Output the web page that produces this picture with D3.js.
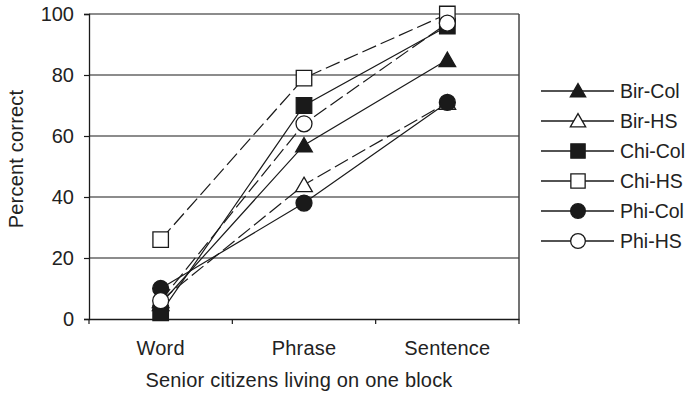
<!DOCTYPE html>
<html>
<head>
<meta charset="utf-8">
<script src="https://cdn.jsdelivr.net/npm/d3@7"></script>
<style>
  html, body { margin: 0; padding: 0; background: #fff; }
  svg { display: block; font-family: "Liberation Sans", Arial, Helvetica, sans-serif; }
  text { fill: #222; }
</style>
</head>
<body>
<svg id="chart" width="689" height="397"></svg>
<script>
// Task categories along the x axis
const categories = ["Word", "Phrase", "Sentence"];

// Percent correct per group, in category order
const birCol = [5, 57, 85];
const birHS  = [6, 44, 71];
const chiCol = [2, 70, 96];
const chiHS  = [26, 79, 100];
const phiCol = [10, 38, 71];
const phiHS  = [6, 64, 97];

const yTicks = [0, 20, 40, 60, 80, 100];

const series = [
  { name: "Bir-Col", values: birCol, shape: "triangle", filled: true,  dashed: false },
  { name: "Bir-HS",  values: birHS,  shape: "triangle", filled: false, dashed: true },
  { name: "Chi-Col", values: chiCol, shape: "square",   filled: true,  dashed: false },
  { name: "Chi-HS",  values: chiHS,  shape: "square",   filled: false, dashed: true },
  { name: "Phi-Col", values: phiCol, shape: "circle",   filled: true,  dashed: false },
  { name: "Phi-HS",  values: phiHS,  shape: "circle",   filled: false, dashed: true }
];

const ink = "#1a1a1a";
const fontPx = 20;
const svg = d3.select("#chart");

const plot = { left: 89, right: 519, top: 14, bottom: 319 };

const x = d3.scaleBand().domain(categories).range([plot.left, plot.right]).paddingInner(0).paddingOuter(0);
const y = d3.scaleLinear().domain([0, 100]).range([plot.bottom, plot.top]);
const cx = c => x(c) + x.bandwidth() / 2;

// Horizontal grid lines
svg.append("g").selectAll("line")
  .data(yTicks.filter(t => t > 0))
  .join("line")
  .attr("x1", plot.left).attr("x2", plot.right)
  .attr("y1", d => y(d)).attr("y2", d => y(d))
  .attr("stroke", ink).attr("stroke-width", 1.2);

// Right frame edge
svg.append("line")
  .attr("x1", plot.right).attr("x2", plot.right)
  .attr("y1", y(100)).attr("y2", y(0))
  .attr("stroke", "#444").attr("stroke-width", 1.5);

// Y axis
const yAxis = svg.append("g")
  .attr("transform", `translate(${plot.left},0)`)
  .call(d3.axisLeft(y).tickValues(yTicks).tickSize(5).tickPadding(10).tickFormat(d3.format("d")));
yAxis.select(".domain").attr("stroke", ink).attr("stroke-width", 1.3);
yAxis.selectAll(".tick line").attr("stroke", ink).attr("stroke-width", 1.2);
yAxis.selectAll("text")
  .attr("font-size", fontPx).attr("fill", "#222").style("font-family", "Liberation Sans, Arial, sans-serif");

// X axis: labels centred in bands, ticks on band boundaries
const xAxis = svg.append("g")
  .attr("transform", `translate(0,${plot.bottom})`)
  .call(d3.axisBottom(x).tickSize(0).tickPadding(22));
xAxis.select(".domain").attr("stroke", ink).attr("stroke-width", 1.3);
xAxis.selectAll("text")
  .attr("font-size", fontPx).attr("fill", "#222").attr("letter-spacing", 0.2)
  .style("font-family", "Liberation Sans, Arial, sans-serif");

const boundaries = categories.map(c => x(c)).concat([plot.right]);
svg.append("g").selectAll("line")
  .data(boundaries)
  .join("line")
  .attr("x1", d => d).attr("x2", d => d)
  .attr("y1", plot.bottom).attr("y2", plot.bottom + 5)
  .attr("stroke", ink).attr("stroke-width", 1.2);

// Axis titles
svg.append("text")
  .attr("x", 299).attr("y", 387)
  .attr("text-anchor", "middle")
  .attr("font-size", fontPx).attr("letter-spacing", 0.2)
  .text("Senior citizens living on one block");

svg.append("text")
  .attr("transform", `translate(23,159) rotate(-90)`)
  .attr("text-anchor", "middle")
  .attr("font-size", fontPx).attr("letter-spacing", 0.2)
  .text("Percent correct");

// Marker drawing
const symbolType = { triangle: d3.symbolTriangle, square: d3.symbolSquare, circle: d3.symbolCircle };
const symbolArea = { triangle: 120, square: 240, circle: 200 };

function marker(sel, s, scale) {
  sel.attr("d", d3.symbol().type(symbolType[s.shape]).size(symbolArea[s.shape] * scale)())
    .attr("fill", s.filled ? ink : "#fff")
    .attr("stroke", ink)
    .attr("stroke-width", 1.3);
}

const line = d3.line()
  .x((d, i) => cx(categories[i]))
  .y(d => y(d));

// Series lines
svg.append("g").selectAll("path")
  .data(series)
  .join("path")
  .attr("d", s => line(s.values))
  .attr("fill", "none")
  .attr("stroke", ink)
  .attr("stroke-width", 1.2)
  .attr("stroke-dasharray", s => s.dashed ? "15,5" : null);

// Series markers
series.forEach(s => {
  svg.append("g").selectAll("path")
    .data(s.values)
    .join("path")
    .attr("transform", (d, i) => {
      const dy = s.shape === "triangle" ? 2 : 0;
      return `translate(${cx(categories[i])},${y(d) + dy})`;
    })
    .call(sel => marker(sel, s, 1));
});

// Legend
const legend = svg.append("g");
const rowY = i => 91 + i * 30;
series.forEach((s, i) => {
  const g = legend.append("g").attr("transform", `translate(0,${rowY(i)})`);
  g.append("line")
    .attr("x1", 541).attr("x2", 614)
    .attr("y1", 0).attr("y2", 0)
    .attr("stroke", ink).attr("stroke-width", 1.3);
  g.append("path")
    .attr("transform", `translate(578,${s.shape === "triangle" ? 1.5 : 0})`)
    .call(sel => marker(sel, s, 0.85));
  g.append("text")
    .attr("x", 620).attr("y", 0).attr("dy", "0.36em")
    .attr("font-size", 19.5)
    .text(s.name);
});
</script>
</body>
</html>
